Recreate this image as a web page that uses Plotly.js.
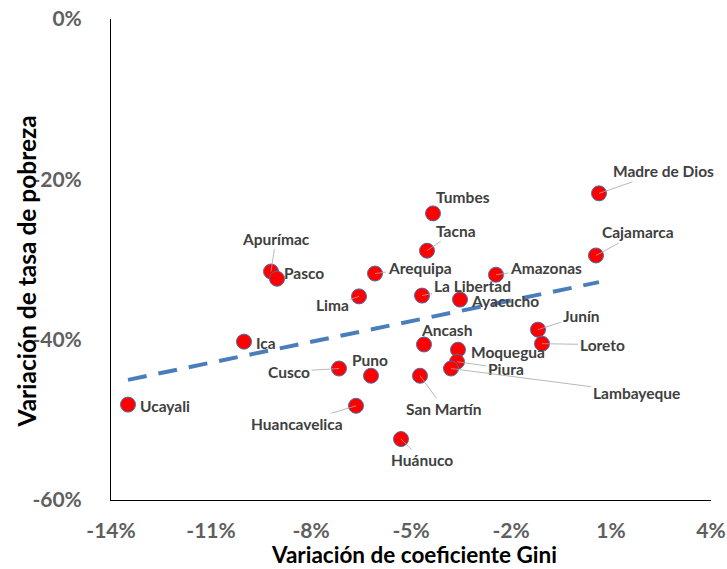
<!DOCTYPE html>
<html>
<head>
<meta charset="utf-8">
<script src="https://cdn.plot.ly/plotly-3.0.1.min.js"></script>
<style>html,body{margin:0;padding:0;background:#fff;}#chart{width:727px;height:569px;}</style>
</head>
<body>
<div id="chart"></div>
<script>
// Data (percent values)
const regions = ["Ucayali","Ica","Apurímac","Pasco","Lima","Arequipa","Cusco","Puno","Huancavelica","Tumbes","Tacna","La Libertad","Ayacucho","Amazonas","Ancash","Moquegua","Piura","Lambayeque","San Martín","Huánuco","Junín","Loreto","Madre de Dios","Cajamarca"];
const giniChange = [-13.49,-10.01,-9.2,-9.02,-6.56,-6.08,-7.16,-6.2,-6.65,-4.34,-4.52,-4.67,-3.53,-2.45,-4.61,-3.59,-3.62,-3.8,-4.73,-5.3,-1.19,-1.07,0.64,0.55];
const povertyChange = [-48.1,-40.25,-31.5,-32.4,-34.6,-31.75,-43.6,-44.5,-48.25,-24.25,-28.9,-34.5,-35.0,-31.9,-40.6,-41.25,-42.75,-43.6,-44.5,-52.4,-38.75,-40.5,-21.75,-29.5];
const xTicks = [-14,-11,-8,-5,-2,1,4];
const yTicks = [-60,-40,-20,0];
const xTitle = "Variación de coeficiente Gini";
const yTitle = "Variación de tasa de pobreza";

// Label placement (pixel offsets of text centre from point) and leader flag
const labelLayout = {
  "Ucayali":[37,1,false],"Ica":[22,1,false],"Apurímac":[5,-33,true],"Pasco":[27,-6,false],
  "Lima":[-27,9,true],"Arequipa":[45,-6,true],"Cusco":[-50,3,true],"Puno":[-1,-16,false],
  "Huancavelica":[-59,18,true],"Tumbes":[30,-16,false],"Tacna":[29,-20,true],"La Libertad":[50,-10,true],
  "Ayacucho":[45,1,false],"Amazonas":[50,-7,true],"Ancash":[22,-14,false],"Moquegua":[50,2,false],
  "Piura":[49,7,true],"Lambayeque":[185,24,true],"San Martín":[24,33,true],"Huánuco":[21,21,true],
  "Junín":[43,-14,true],"Loreto":[60,1,true],"Madre de Dios":[64,-22,true],"Cajamarca":[42,-23,true]
};

// Linear trend (least squares) from the data
const n = giniChange.length;
const mx = giniChange.reduce((a,b)=>a+b,0)/n;
const my = povertyChange.reduce((a,b)=>a+b,0)/n;
let sxy=0,sxx=0;
for(let i=0;i<n;i++){sxy+=(giniChange[i]-mx)*(povertyChange[i]-my);sxx+=(giniChange[i]-mx)**2;}
const slope = sxy/sxx, icpt = my - slope*mx;
const tx = [Math.min(...giniChange), Math.max(...giniChange)];
const ty = tx.map(v=>icpt+slope*v);

const FONT = "Lato, 'Open Sans', sans-serif";

const annotations = regions.map((r,i)=>{
  const [ox,oy,lead] = labelLayout[r];
  return {
    x: giniChange[i], y: povertyChange[i], xref:'x', yref:'y',
    text: '<b>'+r+'</b>',
    showarrow: true, ax: ox, ay: oy,
    arrowhead: 0, arrowwidth: 0.8, arrowcolor: lead ? '#a6a6a6' : 'rgba(0,0,0,0)',
    standoff: 0, startstandoff: 0,
    font: {family: FONT, size: 15.5, color: '#404040'}
  };
});
annotations.push({
  xref:'paper', yref:'paper', x:0.5, y:0, xanchor:'center', yanchor:'bottom',
  xshift:3, yshift:-69, showarrow:false, borderpad:0,
  text:'<b>'+xTitle+'</b>', font:{family:FONT, size:22.5, color:'#000'}
});
annotations.push({
  xref:'paper', yref:'paper', x:0, y:0.5, xanchor:'center', yanchor:'middle',
  xshift:-85, yshift:-12, showarrow:false, textangle:-90,
  text:'<b>'+yTitle+'</b>', font:{family:FONT, size:24.5, color:'#000'}
});

const traces = [
  {x: tx, y: ty, mode:'lines', type:'scatter', hoverinfo:'skip',
   line:{color:'#4a7ebb', width:4, dash:'19px,12px'}},
  {x: giniChange, y: povertyChange, mode:'markers', type:'scatter', text: regions,
   marker:{size:15, color:'#ff0000', line:{color:'#4a6fa5', width:1}}}
];

const layout = {
  width:727, height:569,
  margin:{l:111, r:16, t:19, b:69},
  paper_bgcolor:'#fff', plot_bgcolor:'#fff',
  showlegend:false,
  font:{family:FONT},
  xaxis:{range:[-14,4], tickvals:xTicks, ticktext:xTicks.map(v=>'<b>'+v+'%</b>'),
    showgrid:false, zeroline:false, showline:true, linecolor:'#000', linewidth:1, ticks:'',
    tickfont:{family:FONT, size:21, color:'#5f5f5f', weight:'bold'}, ticklabelstandoff:12},
  yaxis:{range:[-60,0], tickvals:yTicks, ticktext:yTicks.map(v=>'<b>'+v+'%</b>'),
    showgrid:false, zeroline:false, showline:true, linecolor:'#000', linewidth:1, ticks:'',
    tickfont:{family:FONT, size:21, color:'#5f5f5f', weight:'bold'}, ticklabelstandoff:24},
  annotations: annotations
};

Plotly.newPlot('chart', traces, layout, {displayModeBar:false, staticPlot:true});
</script>
</body>
</html>
